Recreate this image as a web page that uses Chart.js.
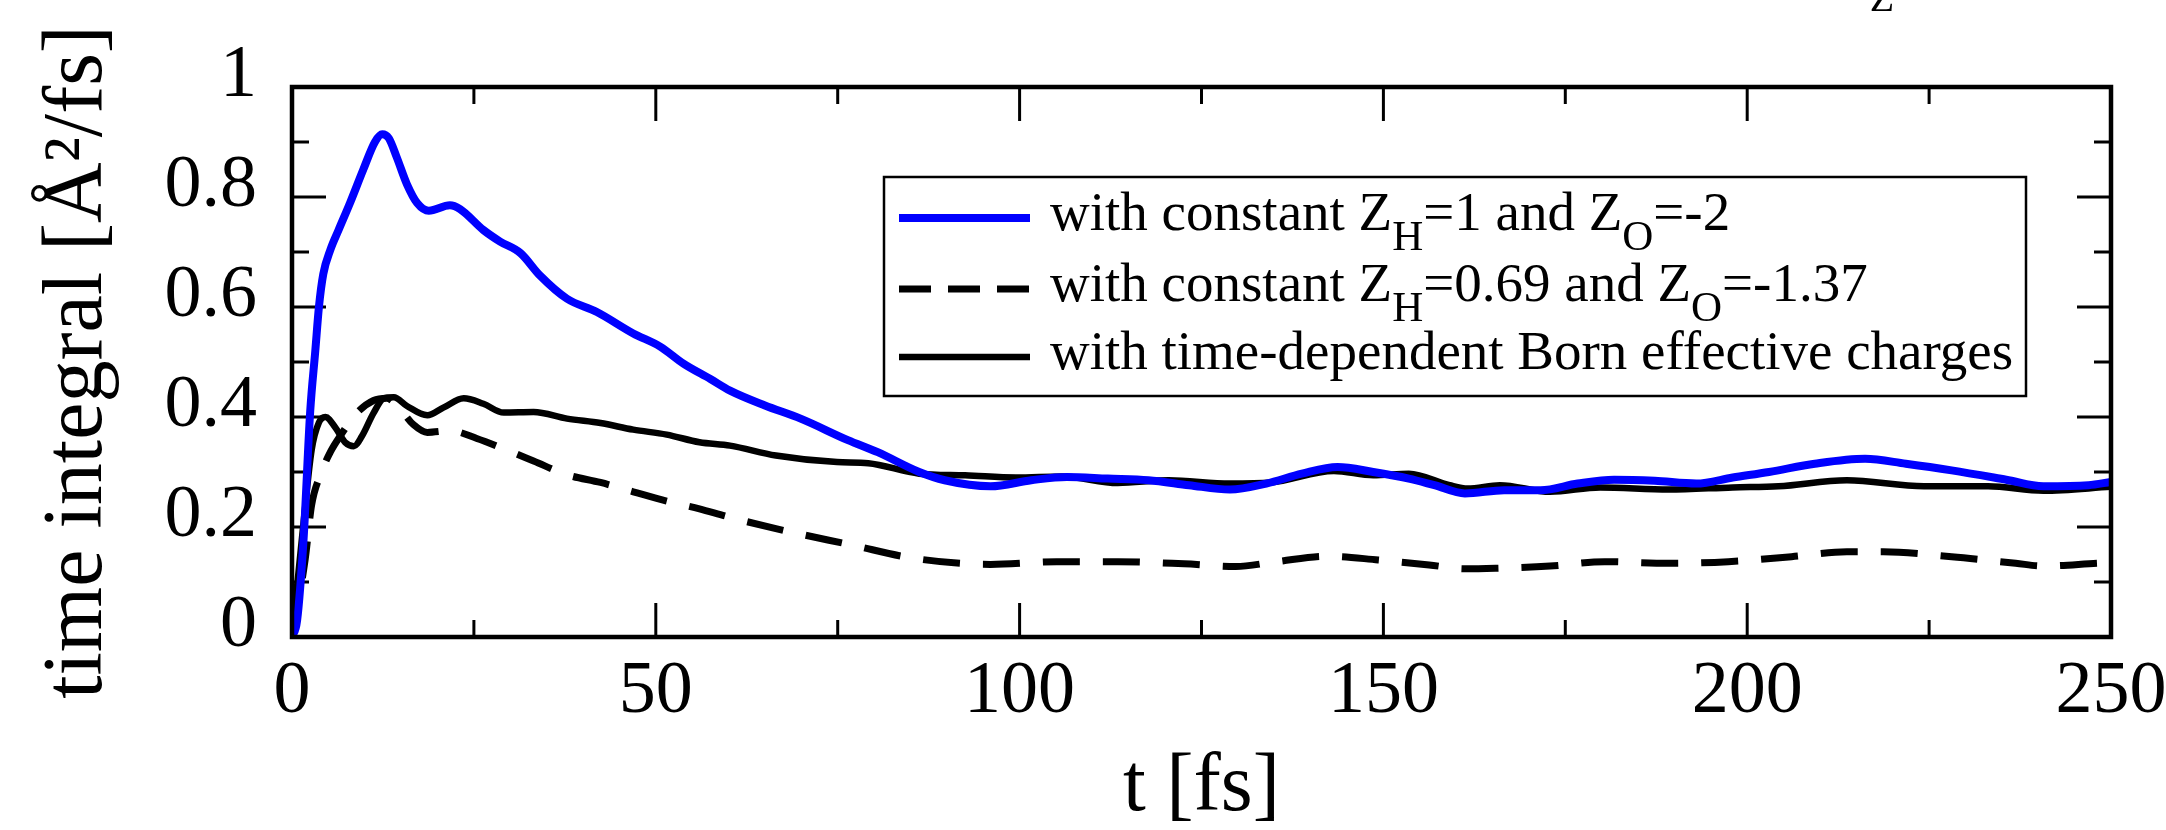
<!DOCTYPE html>
<html><head><meta charset="utf-8">
<script src="https://cdn.jsdelivr.net/npm/chart.js@4.4.1/dist/chart.umd.min.js"></script>
<style>html,body{margin:0;padding:0;background:#fff;overflow:hidden}canvas{display:block}</style>
</head><body>
<canvas id="c" width="2166" height="830" style="width:2166px;height:830px"></canvas>
<script>
// ---- data ----
const blueT = [0,0.7,1.6,2.5,3.2,3.7,4.3,5.3,6.4,8.0,9.8,11.4,12.4,13.3,14.4,15.8,17.2,18.8,21.7,23.1,26.3,28.6,31.4,34.1,37.8,41.9,46.9,50.6,53.8,57.5,60.2,65,69.9,76.4,80.5,86.2,89.7,96,101.6,106.5,112.1,117.7,123.3,128.9,133.9,138.8,143.7,148.6,153.5,157,161.2,166.6,171.6,176.7,181.7,187.3,193,198,203,209.3,216.2,221.8,228.1,235.6,240.7,246.9,250];
const blueV = [0,0.03,0.18,0.41,0.52,0.60,0.66,0.705,0.74,0.79,0.85,0.90,0.914,0.907,0.872,0.823,0.789,0.775,0.785,0.778,0.74,0.719,0.698,0.657,0.615,0.591,0.552,0.528,0.497,0.469,0.448,0.421,0.397,0.358,0.336,0.300,0.285,0.274,0.285,0.291,0.288,0.285,0.276,0.268,0.279,0.297,0.309,0.300,0.288,0.276,0.261,0.267,0.267,0.279,0.286,0.284,0.279,0.290,0.300,0.315,0.324,0.315,0.303,0.286,0.274,0.276,0.282];

const dashT = [0,1.8,2.7,3.9,5.3,6.6,8.9,11.2,13,14.7,16.7,18.6,21.7,25.4,29.5,33.2,37.8,42.4,46.9,51.5,56,59.8,66.5,77,85.5,96,105.1,113.5,122.6,129.7,135.3,142.3,149.3,156.3,161.2,165.4,172.9,180.4,189.2,197.4,206.1,213.7,218.7,228.1,236.9,240.7,248.2,250];
const dashV = [0,0.14,0.24,0.295,0.337,0.365,0.407,0.43,0.434,0.417,0.386,0.372,0.375,0.361,0.34,0.32,0.295,0.281,0.264,0.247,0.233,0.219,0.197,0.167,0.143,0.132,0.137,0.137,0.133,0.128,0.137,0.147,0.140,0.131,0.124,0.125,0.129,0.137,0.134,0.137,0.146,0.155,0.155,0.146,0.134,0.129,0.134,0.135];

const solidT = [0,1.6,2.7,3.7,4.6,6.0,7.3,8.5,9.6,11.2,12.6,14,15.8,18.6,20.8,23.6,26.3,29.1,33.2,37.8,42.4,46.9,51.5,56,60.2,66.5,74.9,79.2,86.2,92.5,99.5,105.8,113.5,120.5,128.9,134.5,143.2,148.6,153.5,159.1,161.6,166,172.9,179.8,189.2,198,204.3,213.7,224.3,233.1,240.7,250];
const solidV = [0,0.21,0.34,0.39,0.40,0.38,0.354,0.347,0.365,0.407,0.434,0.436,0.42,0.403,0.417,0.434,0.424,0.408,0.409,0.397,0.389,0.377,0.368,0.354,0.348,0.330,0.318,0.316,0.297,0.294,0.290,0.292,0.280,0.285,0.279,0.281,0.302,0.294,0.297,0.276,0.270,0.276,0.264,0.272,0.268,0.272,0.274,0.285,0.274,0.274,0.266,0.273];

const xTicks = [0,50,100,150,200,250];
const xMinorTicks = [25,75,125,175,225];
const yTicks = [0,0.2,0.4,0.6,0.8,1];
const yMinorTicks = [0.1,0.3,0.5,0.7,0.9];
const yTickLabels = ['0','0.2','0.4','0.6','0.8','1'];
const xTickLabels = ['0','50','100','150','200','250'];

const legendEntries = [
  [['with constant Z',''],['H','sub'],['=1 and Z',''],['O','sub'],['=-2','']],
  [['with constant Z',''],['H','sub'],['=0.69 and Z',''],['O','sub'],['=-1.37','']],
  [['with time-dependent Born effective charges','']]
];

const xTitle = 't [fs]';
const yTitle = 'time integral [Å²/fs]';

// ---- styling ----
const SERIF = '"Liberation Serif", "Times New Roman", serif';
const BLUE = '#0000ff';

function pts(t, v){ return t.map((x,i)=>({x:x, y:v[i]})); }

const framePlugin = {
  id: 'frame',
  beforeDatasetsDraw(chart){
    const {ctx, chartArea:a, scales:{x, y}} = chart;
    ctx.save();
    ctx.strokeStyle = '#000';
    ctx.lineWidth = 3;
    ctx.lineCap = 'butt';
    const maj = 34, mnr = 17;
    const drawX = (vals, len) => vals.forEach(v => {
      const p = x.getPixelForValue(v);
      ctx.beginPath(); ctx.moveTo(p, a.bottom); ctx.lineTo(p, a.bottom - len); ctx.stroke();
      ctx.beginPath(); ctx.moveTo(p, a.top); ctx.lineTo(p, a.top + len); ctx.stroke();
    });
    const drawY = (vals, len) => vals.forEach(v => {
      const p = y.getPixelForValue(v);
      ctx.beginPath(); ctx.moveTo(a.left, p); ctx.lineTo(a.left + len, p); ctx.stroke();
      ctx.beginPath(); ctx.moveTo(a.right, p); ctx.lineTo(a.right - len, p); ctx.stroke();
    });
    drawX(xTicks, maj); drawX(xMinorTicks, mnr);
    drawY(yTicks, maj); drawY(yMinorTicks, mnr);
    ctx.restore();
  },
  afterDatasetsDraw(chart){
    const {ctx, chartArea:a} = chart;
    ctx.save();
    ctx.strokeStyle = '#000';
    ctx.lineWidth = 4.5;
    ctx.strokeRect(a.left, a.top, a.right - a.left, a.bottom - a.top);
    ctx.restore();
  },
  afterDraw(chart){
    const {ctx, chartArea:a} = chart;
    ctx.save();
    // legend box
    const bx = a.left + 592, by = a.top + 90, bw = 1142, bh = 219;
    ctx.fillStyle = '#fff';
    ctx.fillRect(bx, by, bw, bh);
    ctx.strokeStyle = '#000';
    ctx.lineWidth = 2.5;
    ctx.strokeRect(bx, by, bw, bh);
    const ds = chart.data.datasets;
    const rowsY = [by + 41, by + 112, by + 180];
    const fs = 55;
    ds.forEach((d, i) => {
      const ly = rowsY[i];
      ctx.beginPath();
      ctx.strokeStyle = d.borderColor;
      ctx.lineWidth = d.borderWidth;
      ctx.setLineDash(d.borderDash && d.borderDash.length ? [32, 17] : []);
      ctx.moveTo(bx + 15, ly); ctx.lineTo(bx + 146, ly); ctx.stroke();
      ctx.setLineDash([]);
      let tx = bx + 166;
      const base = ly + 12;
      ctx.fillStyle = '#000';
      ctx.textBaseline = 'alphabetic';
      ctx.textAlign = 'left';
      legendEntries[i].forEach(([s, kind]) => {
        if (kind === 'sub') {
          ctx.font = `${Math.round(fs*0.78)}px ${SERIF}`;
          ctx.fillText(s, tx, base + 20);
        } else {
          ctx.font = `${fs}px ${SERIF}`;
          ctx.fillText(s, tx, base);
        }
        tx += ctx.measureText(s).width;
      });
    });
    // cut-off glyph at top edge of the figure
    ctx.fillStyle = '#000';
    ctx.font = `40px ${SERIF}`;
    ctx.textAlign = 'center';
    ctx.textBaseline = 'alphabetic';
    ctx.fillText('Z', a.left + 1590, 11);
    ctx.restore();
  }
};

new Chart(document.getElementById('c'), {
  type: 'line',
  data: {
    datasets: [
      { label: 'blue', data: pts(blueT, blueV), borderColor: BLUE, borderWidth: 8, borderDash: [], pointRadius: 0, fill: false, cubicInterpolationMode: 'monotone' },
      { label: 'dashed', data: pts(dashT, dashV), borderColor: '#000', borderWidth: 7, borderDash: [37, 23], pointRadius: 0, fill: false, cubicInterpolationMode: 'monotone' },
      { label: 'solid', data: pts(solidT, solidV), borderColor: '#000', borderWidth: 6.5, borderDash: [], pointRadius: 0, fill: false, cubicInterpolationMode: 'monotone' }
    ]
  },
  options: {
    responsive: false,
    devicePixelRatio: 1,
    animation: false,
    events: [],
    layout: { padding: { top: 87, right: 55, left: 0, bottom: 0 } },
    plugins: { legend: { display: false }, tooltip: { enabled: false }, title: { display: false } },
    scales: {
      x: {
        type: 'linear', min: 0, max: 250,
        afterBuildTicks(s){ s.ticks = xTicks.map(v => ({value: v})); },
        afterFit(s){ s.height = 193; s.paddingLeft = 0; s.paddingRight = 0; },
        grid: { display: false, drawTicks: false },
        border: { display: false },
        ticks: { color: '#000', padding: 11, maxRotation: 0, autoSkip: false,
          font: { family: SERIF, size: 74, lineHeight: 1.2 },
          callback: (v, i) => xTickLabels[i] },
        title: { display: true, text: xTitle, color: '#000', font: { family: SERIF, size: 82, lineHeight: 1 }, padding: { top: 0, bottom: 1 } }
      },
      y: {
        type: 'linear', min: 0, max: 1,
        afterBuildTicks(s){ s.ticks = yTicks.map(v => ({value: v})); },
        afterFit(s){ s.width = 292; s.paddingTop = 0; s.paddingBottom = 0; },
        grid: { display: false, drawTicks: false },
        border: { display: false },
        ticks: { color: '#000', padding: 35, labelOffset: -10, autoSkip: false,
          font: { family: SERIF, size: 74, lineHeight: 1.2 },
          callback: (v, i) => yTickLabels[i] },
        title: { display: true, text: yTitle, color: '#000', font: { family: SERIF, size: 84, lineHeight: 1 }, padding: { top: 37, bottom: 0 } }
      }
    }
  },
  plugins: [framePlugin]
});
</script>
</body></html>
